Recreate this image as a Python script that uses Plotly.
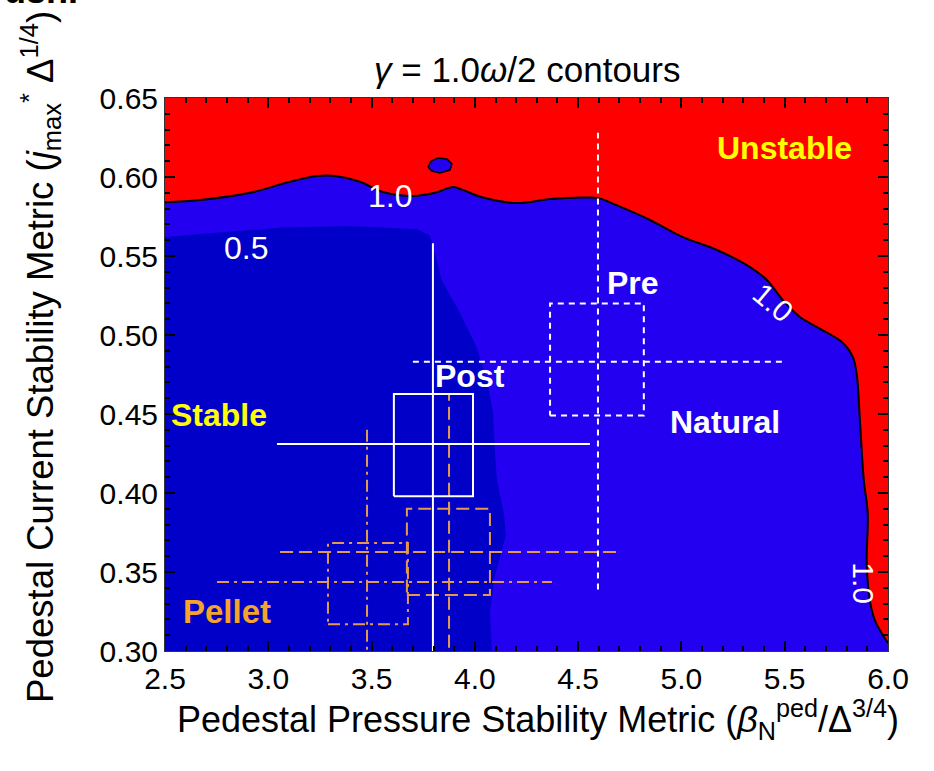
import plotly.graph_objects as go

# ---- data ----
# 1.0 contour (marginal stability boundary): unstable above / right of it
c10_x = [2.5, 2.669, 2.911, 3.105, 3.236, 3.323, 3.444, 3.555, 3.700, 3.807, 3.894, 3.938,
         4.039, 4.204, 4.363, 4.523, 4.596, 4.688, 4.848, 5.007, 5.172, 5.332, 5.414, 5.491,
         5.574, 5.656, 5.782, 5.830, 5.849, 5.864, 5.883, 5.902, 5.897, 5.912, 5.936, 5.966, 6.0]
c10_y = [0.584, 0.5854, 0.590, 0.597, 0.6006, 0.6006, 0.597, 0.5905, 0.588, 0.590, 0.5937, 0.592,
         0.587, 0.5835, 0.586, 0.587, 0.5867, 0.582, 0.5728, 0.562, 0.5538, 0.543, 0.5348, 0.522,
         0.5114, 0.505, 0.495, 0.486, 0.4747, 0.446, 0.408, 0.387, 0.3557, 0.332, 0.3196, 0.312, 0.305]

# 0.5 contour
c05_x = [2.5, 2.669, 3.071, 3.395, 3.720, 3.783, 3.815, 3.839, 3.928, 4.010, 4.059, 4.088,
         4.097, 4.107, 4.141, 4.150, 4.131, 4.092, 4.073, 4.083]
c05_y = [0.562, 0.564, 0.568, 0.569, 0.567, 0.563, 0.5475, 0.535, 0.514, 0.492, 0.471, 0.451,
         0.427, 0.408, 0.387, 0.373, 0.364, 0.345, 0.324, 0.300]

# small stable island inside the unstable region
isl_x = [3.773, 3.788, 3.821, 3.865, 3.889, 3.879, 3.831, 3.792, 3.773]
isl_y = [0.6063, 0.6101, 0.612, 0.6114, 0.6082, 0.6044, 0.6025, 0.6038, 0.6063]

# discharge error crosses: centre, x-range of horizontal bar, y-range of vertical bar, box
post = dict(x=3.797, y=0.431, xlo=3.042, xhi=4.557, ylo=0.29, yhi=0.558,
            bx0=3.608, bx1=3.991, by0=0.398, by1=0.4627)
pre = dict(x=4.596, y=0.483, xlo=3.700, xhi=5.491, ylo=0.339, yhi=0.628,
           bx0=4.364, bx1=4.818, by0=0.449, by1=0.520)
pellet_a = dict(x=3.875, y=0.3627, xlo=3.057, xhi=4.683, ylo=0.29, yhi=0.462,
                bx0=3.671, bx1=4.073, by0=0.3354, by1=0.390)
pellet_b = dict(x=3.478, y=0.3437, xlo=2.752, xhi=4.373, ylo=0.29, yhi=0.4424,
                bx0=3.289, bx1=3.676, by0=0.317, by1=0.3684)

x_ticks = [2.5, 3.0, 3.5, 4.0, 4.5, 5.0, 5.5, 6.0]
y_ticks = [0.30, 0.35, 0.40, 0.45, 0.50, 0.55, 0.60, 0.65]

# ---- styles ----
RED = "#FF0000"
MIDBLUE = "#2400F0"
DARKBLUE = "#0000C8"
ORANGE_LINE = "#E39A4E"
ORANGE_TEXT = "#F5A32A"
YELLOW = "#FFFF00"
FONT = "Liberation Sans, Arial, sans-serif"

fig = go.Figure()

# medium blue: below 1.0 contour
fig.add_trace(go.Scatter(x=c10_x + [6.0, 2.5], y=c10_y + [0.30, 0.30], mode="lines",
                         fill="toself", fillcolor=MIDBLUE, line=dict(width=0),
                         hoverinfo="skip", showlegend=False))
# dark blue: below 0.5 contour
fig.add_trace(go.Scatter(x=c05_x + [2.5], y=c05_y + [0.30], mode="lines",
                         fill="toself", fillcolor=DARKBLUE, line=dict(width=0),
                         hoverinfo="skip", showlegend=False))
# island
fig.add_trace(go.Scatter(x=isl_x, y=isl_y, mode="lines", fill="toself", fillcolor=MIDBLUE,
                         line=dict(color="black", width=1.5), hoverinfo="skip", showlegend=False))
# 1.0 contour line
fig.add_trace(go.Scatter(x=c10_x, y=c10_y, mode="lines", line=dict(color="black", width=2),
                         line_shape="spline", hoverinfo="skip", showlegend=False))


def add_cross(d, color, dash, width=2):
    xs = [d["xlo"], d["xhi"], None, d["x"], d["x"], None,
          d["bx0"], d["bx1"], d["bx1"], d["bx0"], d["bx0"]]
    ys = [d["y"], d["y"], None, d["ylo"], d["yhi"], None,
          d["by0"], d["by0"], d["by1"], d["by1"], d["by0"]]
    fig.add_trace(go.Scatter(x=xs, y=ys, mode="lines",
                             line=dict(color=color, width=width, dash=dash),
                             hoverinfo="skip", showlegend=False))


add_cross(pellet_b, ORANGE_LINE, "12px,5px,3px,5px")
add_cross(pellet_a, ORANGE_LINE, "13px,6px")
add_cross(post, "white", "solid")
add_cross(pre, "white", "6px,5px")

ann = []


def label(x, y, text, color, size=32, bold=True, angle=0):
    ann.append(dict(x=x, y=y, xref="x", yref="y", text=f"<b>{text}</b>" if bold else text,
                    showarrow=False, textangle=angle,
                    font=dict(family=FONT, size=size, color=color)))


label(5.501, 0.6184, "Unstable", YELLOW)
label(2.761, 0.4494, "Stable", YELLOW)
label(2.80, 0.3247, "Pellet", ORANGE_TEXT, size=33)
label(3.976, 0.474, "Post", "white")
label(4.765, 0.533, "Pre", "white")
label(5.211, 0.445, "Natural", "white")
label(3.589, 0.588, "1.0", "white", size=32, bold=False)
label(2.892, 0.555, "0.5", "white", size=32, bold=False)
label(5.443, 0.5203, "1.0", "white", size=30, bold=False, angle=40)
label(5.883, 0.343, "1.0", "white", size=30, bold=False, angle=90)

# title
ann.append(dict(x=(527 - 165) / 723, y=(651 - 70) / 553, xref="paper", yref="paper",
                text="<i>γ</i> = 1.0<i>ω</i>/2 contours", showarrow=False,
                xanchor="center", yanchor="middle",
                font=dict(family=FONT, size=35, color="black")))
# x axis title
ann.append(dict(x=(175 - 165) / 723, y=(651 - 719) / 553, xref="paper", yref="paper",
                text="Pedestal Pressure Stability Metric (<i>β</i><sub>N</sub><sup>ped</sup>/Δ<sup>3/4</sup>)",
                showarrow=False, xanchor="left", yanchor="middle",
                font=dict(family=FONT, size=36, color="black")))
# y axis title
ann.append(dict(x=(40 - 165) / 723, y=(651 - 705) / 553, xref="paper", yref="paper",
                text="Pedestal Current Stability Metric (<i>j</i><sub>max</sub><sup>*</sup> Δ<sup>1/4</sup>)",
                showarrow=False, xanchor="center", yanchor="bottom", textangle=-90,
                font=dict(family=FONT, size=36.5, color="black")))
# cropped fragment of text above the figure
ann.append(dict(x=(2 - 165) / 723, y=(651 - 13) / 553, xref="paper", yref="paper",
                text="<b>usn.</b>", showarrow=False, xanchor="left", yanchor="bottom",
                font=dict(family=FONT, size=36, color="black")))

axis_common = dict(showgrid=False, zeroline=False, ticks="inside", mirror="ticks",
                   showline=True, linecolor="#333333", linewidth=1, tickcolor="black",
                   ticklen=10, tickwidth=1.5,
                   tickfont=dict(family=FONT, size=30, color="black"))

fig.update_layout(
    width=934, height=771,
    margin=dict(l=165, r=46, t=98, b=120),
    plot_bgcolor=RED, paper_bgcolor="white",
    xaxis=dict(range=[2.5, 6.0], tickvals=x_ticks, ticktext=[f"{v:.1f}" for v in x_ticks],
               minor=dict(dtick=0.1, ticks="inside", ticklen=5, tickcolor="black"),
               ticklabelstandoff=1,
               **axis_common),
    yaxis=dict(range=[0.30, 0.65], tickvals=y_ticks, ticktext=[f"{v:.2f}" for v in y_ticks],
               minor=dict(dtick=0.01, ticks="inside", ticklen=5, tickcolor="black"),
               **axis_common),
    annotations=ann,
)

fig.write_html("out.html")
